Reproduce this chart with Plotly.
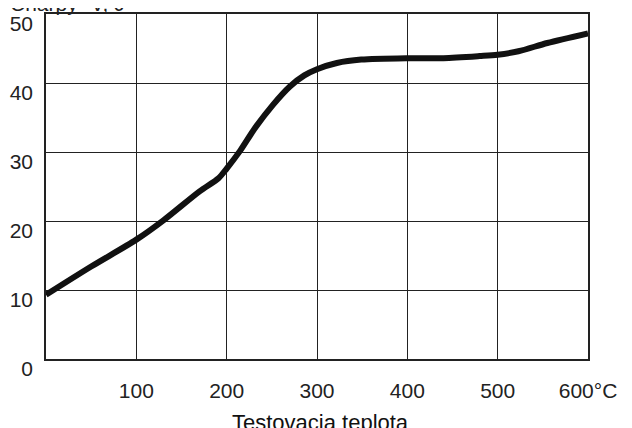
import plotly.graph_objects as go

temps = [0, 50, 100, 130, 170, 191, 200, 215, 231, 251, 270, 286, 300, 322, 349, 400, 440, 480, 500, 523, 555, 600]
energy = [9.3, 13.4, 17.3, 20.1, 24.3, 26.2, 27.6, 30.2, 33.4, 36.8, 39.5, 41.1, 42.0, 42.9, 43.4, 43.6, 43.6, 43.9, 44.1, 44.6, 45.8, 47.2]

x_ticks = [100, 200, 300, 400, 500, 600]
x_labels = ["100", "200", "300", "400", "500", "600°C"]
y_ticks = [0, 10, 20, 30, 40, 50]

FONT = "Liberation Sans, Arial, sans-serif"

fig = go.Figure()
fig.add_trace(go.Scatter(
    x=temps, y=energy, mode="lines",
    line=dict(color="#111111", width=6, shape="spline", smoothing=0.8),
    showlegend=False, hoverinfo="skip",
))

# page body has an 8px margin, so figure is shrunk and shifted accordingly
fig.update_layout(
    width=624, height=420,
    margin=dict(l=38, r=44, t=6, b=69),
    paper_bgcolor="white", plot_bgcolor="white",
    font=dict(family=FONT, size=21, color="#222222"),
    xaxis=dict(range=[0, 600], tickvals=x_ticks, ticktext=x_labels,
               showgrid=True, gridcolor="#222222", gridwidth=1,
               showline=True, linecolor="#222222", linewidth=1.5, mirror=True,
               ticks="", zeroline=False, ticklabelstandoff=12, automargin=False),
    yaxis=dict(range=[0, 50], tickvals=y_ticks,
               showgrid=True, gridcolor="#222222", gridwidth=1,
               showline=True, linecolor="#222222", linewidth=1.5, mirror=True,
               ticks="", zeroline=False, ticklabelstandoff=7, ticklabelshift=10,
               automargin=False),
    annotations=[
        dict(text="Testovacia teplota", xref="paper", yref="paper",
             x=0.507, y=-0.142, xanchor="center", yanchor="top",
             showarrow=False, font=dict(family=FONT, size=22, color="#111111")),
        dict(text="Charpy -V, J", xref="paper", yref="paper",
             x=-38/542, y=0.99, xanchor="left", yanchor="bottom",
             showarrow=False, font=dict(family=FONT, size=21, color="#222222")),
    ],
)

fig.write_html("out.html")
